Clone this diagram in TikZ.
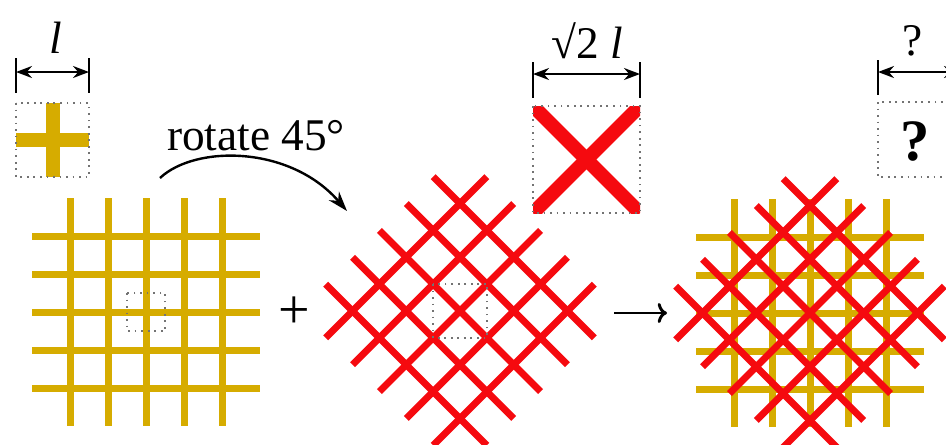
\documentclass[tikz,border=0pt]{standalone}
\usepackage{fontspec}
\setmainfont{Liberation Serif}
\usetikzlibrary{arrows.meta}
\definecolor{meshgold}{RGB}{214,172,0}
\definecolor{meshred}{RGB}{245,10,15}
\newcommand{\meshgrid}[1]{%
  \foreach \k in {-76,-38,0,38,76}{
    \draw[#1] (\k,-114) -- (\k,114);
    \draw[#1] (-114,\k) -- (114,\k);
  }}

\begin{document}
\begin{tikzpicture}[x=0.75pt,y=-0.75pt,
  gold/.style={line width=5.25pt,color=meshgold},
  red/.style={line width=5.25pt,color=meshred},
  cellbox/.style={draw=gray!90!black,line width=1.3pt,dash pattern=on 1.3pt off 3.6pt},
  bar/.style={line width=1.8pt},
  dimarr/.style={{Stealth[length=12pt,width=9pt]}-{Stealth[length=12pt,width=9pt]},line width=1.6pt},
  lbl/.style={font=\fontsize{34}{38}\selectfont,inner sep=0pt,anchor=base},
  sym/.style={font=\fontsize{42}{46}\selectfont,inner sep=0pt}
]
  \useasboundingbox (0,0) rectangle (946,444);
  \clip (0,0) rectangle (946,444);

  % square mesh
  \begin{scope}[shift={(146,312)}]
    \meshgrid{gold}
    \draw[cellbox] (-19,-19) rectangle (19,19);
  \end{scope}

  % rotated mesh
  \begin{scope}[shift={(460,311)}]
    \begin{scope}[rotate=45]
      \meshgrid{red}
    \end{scope}
    \draw[cellbox] (-27,-27) rectangle (27,27);
  \end{scope}

  % both meshes
  \begin{scope}[shift={(810,313)}]
    \meshgrid{gold}
    \begin{scope}[rotate=45]
      \meshgrid{red}
    \end{scope}
  \end{scope}

  % unit cells
  \draw[gold,line width=10.5pt] (52.5,103) -- (52.5,177);
  \draw[gold,line width=10.5pt] (16,140) -- (89,140);
  \draw[cellbox] (16,103) rectangle (89,177);

  \begin{scope}
    \clip (533,106) rectangle (640,213);
    \draw[red,line width=10.5pt] (533,106) -- (640,213);
    \draw[red,line width=10.5pt] (640,106) -- (533,213);
  \end{scope}
  \draw[cellbox] (533,106) rectangle (640,213);

  \draw[cellbox] (878,102) rectangle (953,177);
  \node[font=\fontsize{44}{48}\selectfont\bfseries,inner sep=0pt,anchor=base] (qbox) at (915,160) {?};

  % dimensions
  \coordinate (la) at (16,72);
  \coordinate (lb) at (89,72);
  \draw[bar] (16,58) -- (16,93);
  \draw[bar] (89,58) -- (89,93);
  \draw[dimarr] (la) -- (lb);
  \node[lbl] (lenl) at (56,53) {\textit{l}};

  \coordinate (ma) at (533,74);
  \coordinate (mb) at (640,74);
  \draw[bar] (533,62) -- (533,98);
  \draw[bar] (640,62) -- (640,98);
  \draw[dimarr] (ma) -- (mb);
  \node[lbl] (lenm) at (587,58) {√2 \textit{l}};

  \coordinate (ra) at (878,72);
  \coordinate (rb) at (960,72);
  \draw[bar] (878,60) -- (878,95);
  \draw[dimarr] (ra) -- (rb);
  \node[lbl] (lenr) at (913,55) {?};

  % rotation arrow
  \node[lbl] (rot) at (256,150) {rotate 45°};
  \coordinate (rotS) at (160,178);
  \coordinate (rotE) at (347,211);
  \draw[line width=1.8pt,-{Stealth[length=15pt,width=10pt]}] (rotS) .. controls (195,145) and (290,145) .. (rotE);

  \node[sym] (plus) at (294,313) {+};
  \coordinate (toA) at (614,313);
  \coordinate (toB) at (667,313);
  \draw[line width=2.2pt,-{To[length=7pt,width=15pt]}] (toA) -- (toB);
\end{tikzpicture}
\end{document}
